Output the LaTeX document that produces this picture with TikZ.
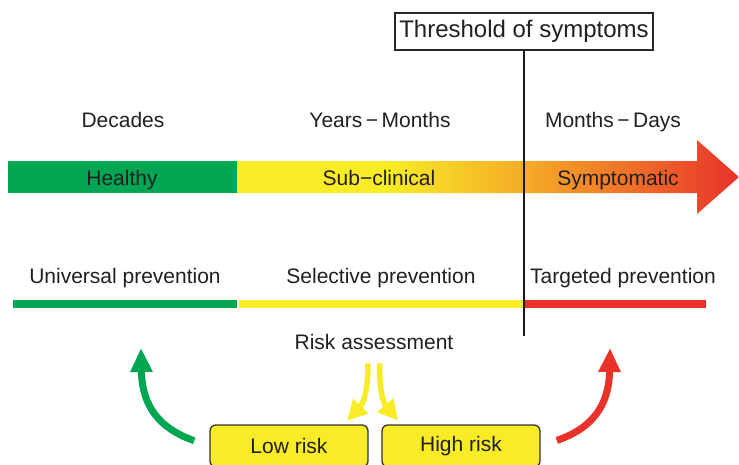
\documentclass[tikz,border=0pt]{standalone}
\usepackage{fontspec}
\setmainfont{Liberation Sans}
\usetikzlibrary{arrows.meta}
\usepackage{xcolor}

\definecolor{hgreen}{RGB}{0,166,81}
\definecolor{hyellow}{RGB}{247,236,38}
\definecolor{horange}{RGB}{245,170,40}
\definecolor{hred}{RGB}{232,50,42}
\definecolor{htext}{RGB}{35,31,32}

% yellow -> orange -> red along the stage arrow
\pgfdeclarehorizontalshading{stageshade}{100bp}{color(0bp)=(hyellow); color(25bp)=(hyellow); color(40bp)=(hyellow); color(54bp)=(horange); color(75bp)=(hred); color(100bp)=(hred)}

\newcommand{\dashsym}{\char"2212}

\tikzset{
  lbl/.style={text=htext, font=\fontsize{21}{25}\selectfont, inner sep=0pt},
  riskbox/.style={lbl, draw=black!80, line width=1.3pt, fill=hyellow, rounded corners=6pt, minimum width=158pt, minimum height=42pt},
  bigarrow/.style={line width=7pt, -{Triangle[width=21pt,length=24pt]}},
  yarrow/.style={line width=5.5pt, hyellow, -{Triangle[width=20pt,length=20pt]}}
}

\begin{document}
\begin{tikzpicture}[x=1pt, y=-1pt]
\useasboundingbox (0,0) rectangle (739,464);

        % Define corners of the stage arrow
        \coordinate (S1) at (8, 161);      % Top-left of healthy
        \coordinate (S2) at (237, 193);    % Bottom-right of healthy
        \coordinate (S3) at (697, 140);    % Top of arrow head
        \coordinate (S4) at (739, 177);    % Tip of arrow head
        \coordinate (S5) at (697, 214);    % Bottom of arrow head

        % Draw the stage arrow
        \fill[hgreen] (S1) rectangle (S2);
        \shade[shading=stageshade] (237, 161) -- (697, 161) -- (S3) -- (S4) -- (S5) -- (697, 193) -- (S2) -- cycle;

        % Draw the prevention bars
        \fill[hgreen] (13, 300) rectangle (237, 308);
        \fill[hyellow] (239, 300) rectangle (525, 308);
        \fill[hred] (525, 300) rectangle (706, 308);

        % Time labels
        \node[lbl, anchor=base] (decades) at (123, 127) {Decades};
        \node[lbl, anchor=base] (yearsmonths) at (380, 127) {Years\,\dashsym\,Months};
        \node[lbl, anchor=base] (monthsdays) at (613, 127) {Months\,\dashsym\,Days};

        % Stage labels
        \node[lbl, anchor=base] (healthy) at (122, 185) {Healthy};
        \node[lbl, anchor=base] (subclinical) at (379, 185) {Sub\dashsym clinical};
        \node[lbl, anchor=base] (symptomatic) at (618, 185) {Symptomatic};

        % Prevention labels
        \node[lbl, anchor=base] (universal) at (125, 283) {Universal prevention};
        \node[lbl, anchor=base] (selective) at (381, 283) {Selective prevention};
        \node[lbl, anchor=base] (targeted) at (623, 283) {Targeted prevention};

        % Threshold box and its line
        \node[lbl, font=\fontsize{24}{28}\selectfont, draw=black!85, line width=1.2pt, fill=white, minimum width=258pt, minimum height=37pt] (threshold) at (524, 31.5) {Threshold of symptoms};
        \coordinate (T1) at (524, 336);    % Lower end of threshold line
        \draw[line width=1.3pt, black!90] (threshold.south) -- (T1);

        % Risk assessment and the two outcomes
        \node[lbl, anchor=base] (risk) at (374, 349) {Risk assessment};
        \node[riskbox] (low) at (289, 446) {Low risk};
        \node[riskbox] (high) at (461, 446) {High risk};

        % Draw yellow arrows from risk assessment
        \draw[yarrow, shorten <=14pt, shorten >=5pt] ([xshift=-6pt]risk.south) .. controls (368, 395) and (362, 405) .. ([xshift=-25pt]low.north east);
        \draw[yarrow, shorten <=14pt, shorten >=5pt] ([xshift=6pt]risk.south) .. controls (379, 395) and (385, 405) .. ([xshift=20pt]high.north west);

        % Draw arrows back to the prevention bars
        \coordinate (G1) at (141, 348);    % Tip of green arrow
        \coordinate (R1) at (610, 348);    % Tip of red arrow
        \draw[bigarrow, hgreen, shorten <=16pt] (low.west) .. controls (158, 428) and (142, 405) .. (G1);
        \draw[bigarrow, hred, shorten <=17pt] (high.east) .. controls (593, 428) and (609, 405) .. (R1);

\end{tikzpicture}
\end{document}
